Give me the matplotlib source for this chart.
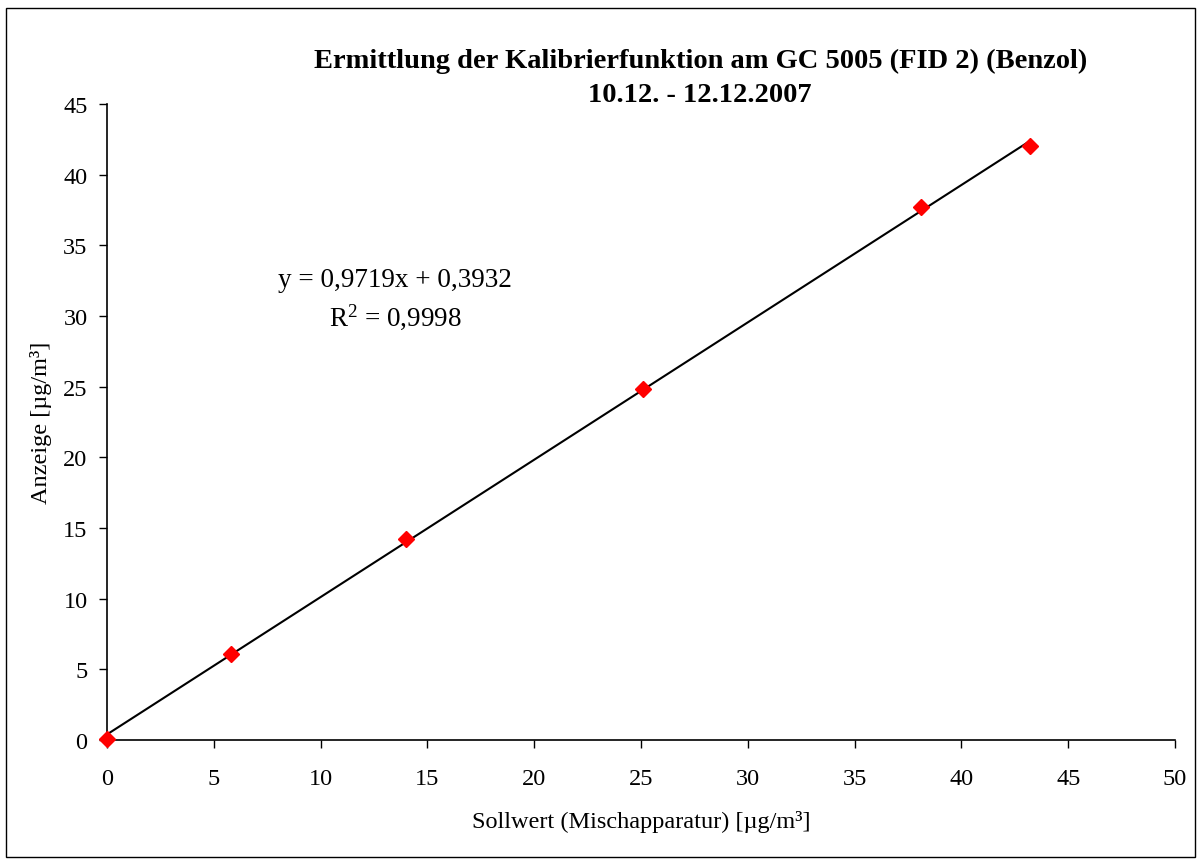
import numpy as np
import matplotlib
matplotlib.use('Agg')
from matplotlib import pyplot as plt
from matplotlib.patches import Rectangle

plt.rcParams['font.family'] = ['Liberation Serif', 'DejaVu Serif']
plt.rcParams['mathtext.fontset'] = 'custom'
plt.rcParams['mathtext.rm'] = 'Liberation Serif'

# measured values
sollwert = [0.0, 5.8, 14.0, 25.1, 38.1, 43.2]
anzeige = [0.1, 6.1, 14.2, 24.8, 37.7, 42.0]
slope = 0.9719
intercept = 0.3932
r2 = 0.9998

fig = plt.figure(figsize=(12.01, 8.62), dpi=100)
fig.patches.append(Rectangle((0.005, 0.005), 0.99, 0.984, transform=fig.transFigure,
                             fill=False, edgecolor='black', linewidth=1.0))
ax = fig.add_axes([0.0891, 0.1404, 0.8893, 0.7378])

xl = np.array([min(sollwert), max(sollwert)])
ax.plot(xl, slope * xl + intercept, color='black', linewidth=1.5, zorder=2)
ax.plot(sollwert, anzeige, linestyle='none', marker='D', markersize=8,
        color='#ff0000', markeredgecolor='#ff0000', zorder=3, clip_on=False)

ax.set_xlim(0, 50)
ax.set_ylim(0, 45)
ax.set_xticks(np.arange(0, 51, 5))
ax.set_yticks(np.arange(0, 46, 5))
for s in ['top', 'right']:
    ax.spines[s].set_visible(False)
for s in ['left', 'bottom']:
    ax.spines[s].set_linewidth(1.2)
ax.tick_params(direction='out', length=6, width=1, labelsize=17.5, pad=8)
ax.tick_params(axis='x', pad=14)

ax.set_xlabel('Sollwert (Mischapparatur) [µg/m³]', fontsize=17.5, labelpad=15)
ax.set_ylabel('Anzeige [µg/m³]', fontsize=17.5, labelpad=8)

fig.text(0.583, 0.909, 'Ermittlung der Kalibrierfunktion am GC 5005 (FID 2) (Benzol)\n10.12. - 12.12.2007',
         ha='center', va='center', fontsize=20.5, fontweight='bold', linespacing=1.45)

eq = 'y = 0,9719x + 0,3932\n$\\mathregular{R^2}$ = 0,9998'
ax.text(13.5, 31.2, eq, ha='center', va='center', fontsize=19.5, linespacing=1.4)

fig.savefig('out.png', dpi=100)
